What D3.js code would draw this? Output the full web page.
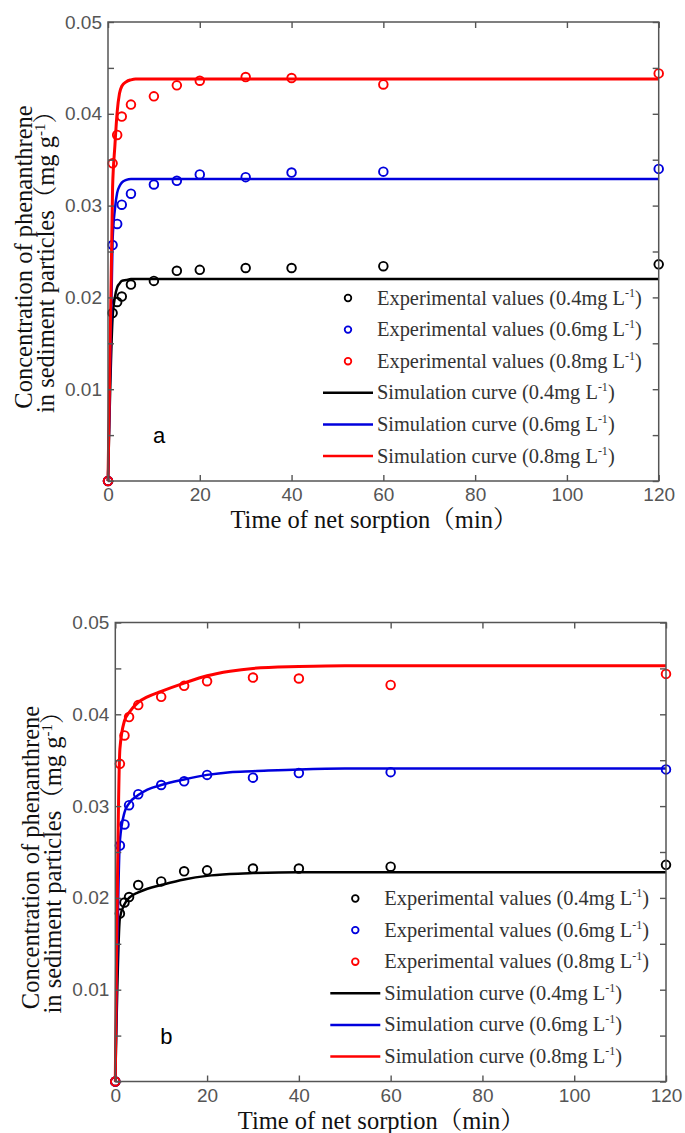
<!DOCTYPE html>
<html><head><meta charset="utf-8">
<script src="https://cdn.jsdelivr.net/npm/d3@7"></script>
<style>body{margin:0;background:#fff;} svg{display:block;}</style>
</head><body>
<svg id="chart" width="685" height="1133"></svg>
<script>
// ---------- data ----------
const expTimes = [0, 1, 2, 3, 5, 10, 15, 20, 30, 40, 60, 120];
const exp04 = [0, 0.0183, 0.0195, 0.0201, 0.0214, 0.0218, 0.0229, 0.0230, 0.0232, 0.0232, 0.0234, 0.0236];
const exp06 = [0, 0.0257, 0.0280, 0.0301, 0.0313, 0.0323, 0.0327, 0.0334, 0.0331, 0.0336, 0.0337, 0.0340];
const exp08 = [0, 0.0346, 0.0377, 0.0397, 0.0410, 0.0419, 0.0431, 0.0436, 0.0440, 0.0439, 0.0432, 0.0444];

const simTimesA = [0, 1, 1.5, 2, 2.5, 3, 4, 5, 6, 10, 20, 40, 60, 120];
const simA04 = [0, 0.0178, 0.0200, 0.0211, 0.0215, 0.0218, 0.0219, 0.0220, 0.0220, 0.0220, 0.0220, 0.0220, 0.0220, 0.0220];
const simA06 = [0, 0.0262, 0.0296, 0.0314, 0.0321, 0.0325, 0.0328, 0.0329, 0.0329, 0.0329, 0.0329, 0.0329, 0.0329, 0.0329];
const simA08 = [0, 0.0320, 0.0365, 0.0402, 0.0422, 0.0430, 0.0435, 0.0437, 0.0438, 0.0438, 0.0438, 0.0438, 0.0438, 0.0438];

const simTimesB = [0, 1, 2, 3, 5, 7, 10, 15, 20, 25, 30, 40, 50, 60, 80, 100, 120];
const simB04 = [0, 0.0178, 0.0193, 0.0200, 0.0206, 0.0210, 0.0214, 0.0220, 0.0224, 0.0226, 0.0227, 0.0228, 0.0228, 0.0228, 0.0228, 0.0228, 0.0228];
const simB06 = [0, 0.0262, 0.0293, 0.0303, 0.0312, 0.0318, 0.0323, 0.0329, 0.0334, 0.0337, 0.0338, 0.0340, 0.0341, 0.0341, 0.0341, 0.0341, 0.0341];
const simB08 = [0, 0.0362, 0.0393, 0.0402, 0.0413, 0.0419, 0.0425, 0.0434, 0.0442, 0.0447, 0.0450, 0.0452, 0.0453, 0.0453, 0.0453, 0.0453, 0.0453];

const xTicks = [0, 20, 40, 60, 80, 100, 120];
const yTicks = [0, 0.005, 0.01, 0.015, 0.02, 0.025, 0.03, 0.035, 0.04, 0.045, 0.05];
const yTickLabels = {"0.01": "0.01", "0.02": "0.02", "0.03": "0.03", "0.04": "0.04", "0.05": "0.05"};

const concLabels = ["0.4", "0.6", "0.8"];
const seriesColors = ["#000000", "#0000dd", "#ff0000"];
const xTitle = "Time of net sorption（min）";
const yTitle1 = "Concentration of phenanthrene";
const yTitle2 = "in sediment particles（mg g";

// ---------- drawing ----------
const svg = d3.select("#chart");
const W = 550.7, H = 459;
const serif = "'Liberation Serif','Times New Roman','Noto Serif CJK SC','Noto Sans CJK SC',serif";
const sans = "'Liberation Sans',Arial,sans-serif";
const axisCol = "#555";

function panel(ox, oy, simTimes, sims, label) {
  const left = 108 + ox, top = 22 + oy;
  const g = svg.append("g");
  const x = d3.scaleLinear().domain([0, 120]).range([left, left + W]);
  const y = d3.scaleLinear().domain([0, 0.05]).range([top + H, top]);

  // experimental points
  const expSeries = [exp04, exp06, exp08];
  expSeries.forEach((vals, i) => {
    g.append("g").selectAll("circle").data(expTimes.map((t, j) => [t, vals[j]]))
      .join("circle")
      .attr("cx", d => x(d[0])).attr("cy", d => y(d[1])).attr("r", 4.3)
      .attr("fill", "none").attr("stroke", seriesColors[i]).attr("stroke-width", 1.9);
  });

  // simulation curves
  const line = d3.line().x(d => x(d[0])).y(d => y(d[1])).curve(d3.curveMonotoneX);
  sims.forEach((vals, i) => {
    g.append("path").datum(simTimes.map((t, j) => [t, vals[j]]))
      .attr("d", line).attr("fill", "none").attr("stroke", seriesColors[i])
      .attr("stroke-width", i === 2 ? 3 : 2.5);
  });

  // axes (ticks inward)
  const fmtY = d => yTickLabels[String(+d.toFixed(3))] || "";
  const axB = g.append("g").attr("transform", `translate(0,${top + H})`)
    .call(d3.axisBottom(x).tickValues(xTicks).tickSize(-6).tickSizeOuter(0).tickPadding(7));
  const axT = g.append("g").attr("transform", `translate(0,${top})`)
    .call(d3.axisTop(x).tickValues(xTicks).tickSize(-6).tickSizeOuter(0).tickFormat(""));
  const axL = g.append("g").attr("transform", `translate(${left},0)`)
    .call(d3.axisLeft(y).tickValues(yTicks).tickSize(-6).tickSizeOuter(0).tickPadding(6).tickFormat(fmtY));
  const axR = g.append("g").attr("transform", `translate(${left + W},0)`)
    .call(d3.axisRight(y).tickValues(yTicks).tickSize(-6).tickSizeOuter(0).tickFormat(""));
  [axB, axT, axL, axR].forEach(a => {
    a.select(".domain").remove();
    a.selectAll("line").attr("stroke", axisCol).attr("stroke-width", 1.4);
    a.selectAll("text").attr("fill", axisCol).style("font-family", sans).style("font-size", "19px");
  });
  g.append("rect").attr("x", left).attr("y", top).attr("width", W).attr("height", H)
    .attr("fill", "none").attr("stroke", axisCol).attr("stroke-width", 1.5);

  // x title
  g.append("text").attr("x", 374 + ox).attr("y", 528 + oy).attr("text-anchor", "middle")
    .style("font-family", serif).style("font-size", "24.5px").attr("fill", "#111").text(xTitle);

  // y title (two lines)
  g.append("text").attr("transform", `translate(${32 + ox},${257 + oy}) rotate(-90)`)
    .attr("text-anchor", "middle").style("font-family", serif).style("font-size", "24.5px")
    .attr("fill", "#111").text(yTitle1);
  const t2 = g.append("text").attr("transform", `translate(${54 + ox},${256 + oy}) rotate(-90)`)
    .attr("text-anchor", "middle").style("font-family", serif).style("font-size", "24.5px")
    .attr("fill", "#111");
  t2.append("tspan").text(yTitle2);
  t2.append("tspan").attr("dy", -9).style("font-size", "15px").text("-1");
  t2.append("tspan").attr("dy", 9).text("）");

  // panel letter
  g.append("text").attr("x", 153 + ox).attr("y", 443 + oy)
    .style("font-family", sans).style("font-size", "22px").attr("fill", "#000").text(label);

  // legend
  const rows = [];
  concLabels.forEach((c, i) => rows.push({type: "pt", color: seriesColors[i], text: "Experimental values (" + c + "mg L"}));
  concLabels.forEach((c, i) => rows.push({type: "ln", color: seriesColors[i], text: "Simulation curve (" + c + "mg L"}));
  rows.forEach((r, i) => {
    const cy = 298 + oy + i * 31.6;
    if (r.type === "pt") {
      g.append("circle").attr("cx", 348 + ox).attr("cy", cy).attr("r", 3.3)
        .attr("fill", "none").attr("stroke", r.color).attr("stroke-width", 1.8);
    } else {
      g.append("line").attr("x1", 323 + ox).attr("x2", 373 + ox).attr("y1", cy).attr("y2", cy)
        .attr("stroke", r.color).attr("stroke-width", 2.5);
    }
    const tx = g.append("text").attr("x", 377 + ox).attr("y", cy + 6.5)
      .style("font-family", serif).style("font-size", "20.4px").attr("fill", "#333");
    tx.append("tspan").text(r.text);
    tx.append("tspan").attr("dy", -8).style("font-size", "12px").text("-1");
    tx.append("tspan").attr("dy", 8).text(")");
  });
}

panel(0, 0, simTimesA, [simA04, simA06, simA08], "a");
panel(7.3, 600.5, simTimesB, [simB04, simB06, simB08], "b");
</script>
</body></html>
